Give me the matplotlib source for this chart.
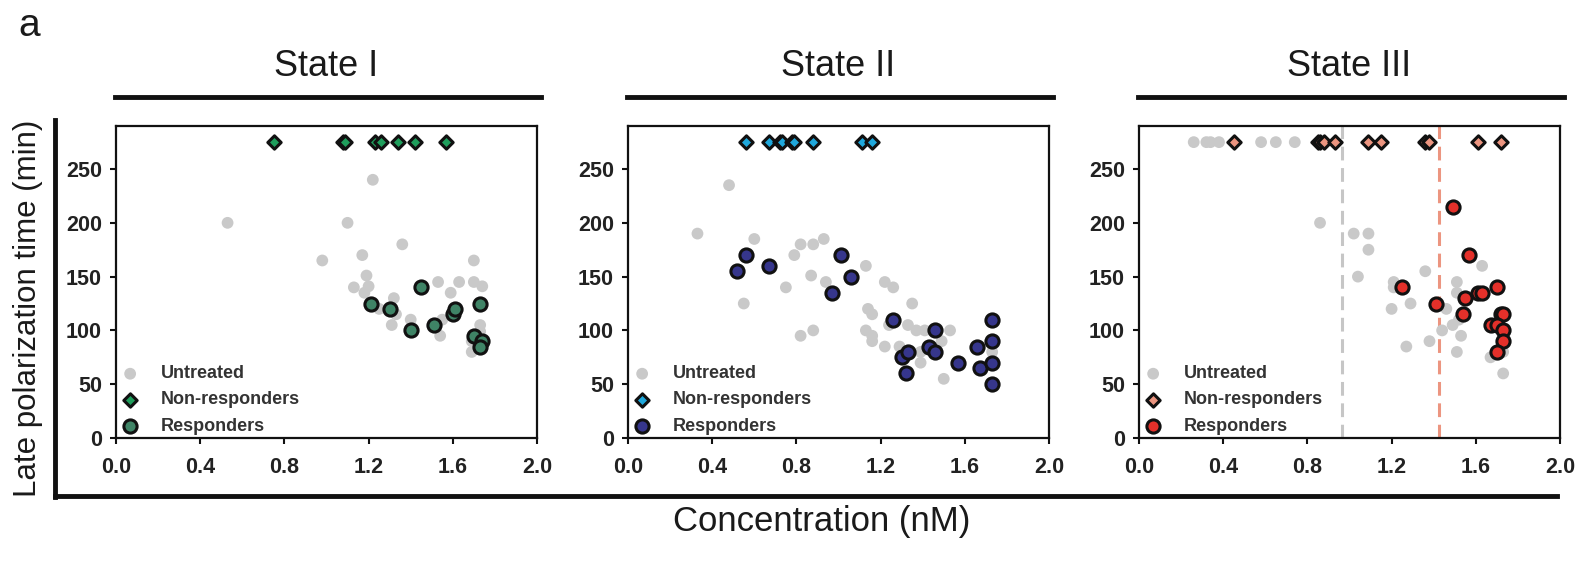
import matplotlib
matplotlib.use("Agg")
import matplotlib.pyplot as plt
from matplotlib.lines import Line2D

plt.rcParams['font.family'] = ['Liberation Sans', 'DejaVu Sans']

# ---- data ----
titles = ["State I", "State II", "State III"]
legend_labels = ["Untreated", "Non-responders", "Responders"]
xticks = [0.0, 0.4, 0.8, 1.2, 1.6, 2.0]
yticks = [0, 50, 100, 150, 200, 250]

# State I
s1_untreated_x = [0.53, 1.22, 1.10, 0.98, 1.36, 1.17, 1.70, 1.19, 1.13, 1.20, 1.18, 1.32,
                  1.25, 1.33, 1.31, 1.40, 1.53, 1.63, 1.59, 1.70, 1.74, 1.55, 1.54, 1.73,
                  1.69, 1.69, 1.73]
s1_untreated_y = [200, 240, 200, 165, 180, 170, 165, 151, 140, 141, 135, 130,
                  120, 115, 105, 110, 145, 145, 135, 145, 141, 110, 95, 105,
                  90, 80, 99]
s1_nonresp_x = [0.75, 1.08, 1.09, 1.23, 1.26, 1.34, 1.42, 1.57]
s1_nonresp_y = [275, 275, 275, 275, 275, 275, 275, 275]
s1_resp_x = [1.21, 1.30, 1.45, 1.40, 1.51, 1.60, 1.61, 1.73, 1.70, 1.74, 1.73]
s1_resp_y = [125, 120, 140, 100, 105, 115, 120, 125, 95, 90, 85]

# State II
s2_untreated_x = [0.48, 0.33, 0.60, 0.55, 0.75, 0.79, 0.82, 0.88, 0.93, 0.87, 0.94, 0.82,
                  0.88, 1.13, 1.22, 1.26, 1.35, 1.14, 1.16, 1.13, 1.16, 1.16, 1.22, 1.24,
                  1.29, 1.33, 1.37, 1.41, 1.39, 1.39, 1.49, 1.53, 1.50, 1.73]
s2_untreated_y = [235, 190, 185, 125, 140, 170, 180, 180, 185, 151, 145, 95,
                  100, 160, 145, 140, 125, 120, 115, 100, 95, 90, 85, 105,
                  85, 105, 100, 100, 80, 70, 90, 100, 55, 80]
s2_nonresp_x = [0.56, 0.67, 0.72, 0.73, 0.78, 0.79, 0.88, 1.11, 1.16]
s2_nonresp_y = [275, 275, 275, 275, 275, 275, 275, 275, 275]
s2_resp_x = [0.52, 0.56, 0.67, 1.01, 1.06, 0.97, 1.26, 1.30, 1.33, 1.32, 1.46, 1.43,
             1.46, 1.57, 1.66, 1.67, 1.73, 1.73, 1.73, 1.73]
s2_resp_y = [155, 170, 160, 170, 150, 135, 110, 75, 80, 60, 100, 85,
             80, 70, 85, 65, 110, 90, 70, 50]

# State III
s3_untreated_x = [0.26, 0.32, 0.34, 0.38, 0.58, 0.65, 0.74, 0.86, 1.02, 1.09, 1.09, 1.04,
                  1.21, 1.21, 1.20, 1.29, 1.27, 1.36, 1.38, 1.46, 1.44, 1.49, 1.51, 1.51,
                  1.53, 1.51, 1.63, 1.67, 1.73, 1.73, 1.52]
s3_untreated_y = [275, 275, 275, 275, 275, 275, 275, 200, 190, 190, 175, 150,
                  145, 140, 120, 125, 85, 155, 90, 120, 100, 105, 145, 135,
                  95, 80, 160, 75, 80, 60, 110]
s3_nonresp_x = [0.45, 0.85, 0.86, 0.88, 0.93, 1.09, 1.15, 1.36, 1.38, 1.61, 1.72]
s3_nonresp_y = [275, 275, 275, 275, 275, 275, 275, 275, 275, 275, 275]
s3_resp_x = [1.49, 1.25, 1.41, 1.57, 1.55, 1.54, 1.61, 1.63, 1.70, 1.72, 1.73, 1.67,
             1.70, 1.73, 1.73, 1.70]
s3_resp_y = [215, 140, 125, 170, 130, 115, 135, 135, 140, 115, 115, 105,
             105, 100, 90, 80]
s3_cutoffs = [0.964, 1.423]

panels = [
    (s1_untreated_x, s1_untreated_y, s1_nonresp_x, s1_nonresp_y, s1_resp_x, s1_resp_y),
    (s2_untreated_x, s2_untreated_y, s2_nonresp_x, s2_nonresp_y, s2_resp_x, s2_resp_y),
    (s3_untreated_x, s3_untreated_y, s3_nonresp_x, s3_nonresp_y, s3_resp_x, s3_resp_y),
]
nonresp_colors = ['#1f9e5c', '#1fa8dc', '#ec9580']
resp_colors = ['#3f8466', '#36368c', '#e4302a']
cutoff_colors = ['#c6c6c6', '#ec9580']
grey = '#c9c9c9'

# ---- figure ----
W, H = 1594, 561
fig = plt.figure(figsize=(W / 100, H / 100), dpi=100)
fig.patch.set_facecolor('white')

lefts = [116, 628, 1139]
ax_w, ax_top, ax_bot = 421, 126, 438

for i, (ux, uy, nx, ny, rx, ry) in enumerate(panels):
    ax = fig.add_axes([lefts[i] / W, (H - ax_bot) / H, ax_w / W, (ax_bot - ax_top) / H])
    ax.scatter(ux, uy, s=72, color=grey, edgecolors='none', zorder=2, label=legend_labels[0])
    ax.scatter(nx, ny, s=46, marker='D', color=nonresp_colors[i], edgecolors='#111111',
               linewidths=2.2, zorder=3, label=legend_labels[1])
    ax.scatter(rx, ry, s=90, color=resp_colors[i], edgecolors='#111111',
               linewidths=2.2, zorder=4, label=legend_labels[2])
    if i == 2:
        for c, col in zip(s3_cutoffs, cutoff_colors):
            ax.axvline(c, color=col, lw=2.2, ls=(0, (4.5, 2.5)), zorder=1)

    ax.set_xlim(0, 2.0)
    ax.set_ylim(0, 290)
    ax.set_xticks(xticks)
    ax.set_xticklabels([f"{t:.1f}" for t in xticks])
    ax.set_yticks(yticks)
    for side in ['top', 'right', 'left', 'bottom']:
        ax.spines[side].set_linewidth(1.6)
        ax.spines[side].set_color('#111111')
    ax.tick_params(axis='both', direction='out', length=4, width=1.5, color='#111111',
                   labelsize=15.5, labelcolor='#222222')
    ax.tick_params(axis='x', pad=10)
    ax.tick_params(axis='y', pad=6)
    for lab in ax.get_xticklabels() + ax.get_yticklabels():
        lab.set_fontweight('bold')

    leg = ax.legend(loc='lower left', bbox_to_anchor=(-0.005, -0.012), frameon=False,
                    prop={'size': 13, 'weight': 'bold'}, handletextpad=1.2,
                    labelspacing=0.5, borderaxespad=0.0, handlelength=1.0,
                    scatterpoints=1)
    for t in leg.get_texts():
        t.set_color('#333333')

    # title and bar above each panel
    ax.text(0.5, 1.19, titles[i], transform=ax.transAxes, ha='center', va='center',
            fontsize=26, color='#1a1a1a')
    ax.add_line(Line2D([-0.003, 1.01], [1.093, 1.093], transform=ax.transAxes,
                       color='#111111', lw=3.5, clip_on=False))

# big L-shaped frame
fig.add_artist(Line2D([55 / W, 55 / W], [(H - 120) / H, (H - 497) / H],
                      color='#111111', lw=3.5))
fig.add_artist(Line2D([55 / W, 1557 / W], [(H - 496) / H, (H - 496) / H],
                      color='#111111', lw=3.5))

fig.text(28 / W, (H - 308) / H, "Late polarization time (min)", rotation=90,
         ha='center', va='center', fontsize=22.5, color='#1a1a1a')
fig.text(822 / W, (H - 522) / H, "Concentration (nM)", ha='center', va='center',
         fontsize=25, color='#1a1a1a')
fig.text(18 / W, (H - 26) / H, "a", ha='left', va='center', fontsize=28, color='#1a1a1a')

fig.savefig('out.png', dpi=100)
